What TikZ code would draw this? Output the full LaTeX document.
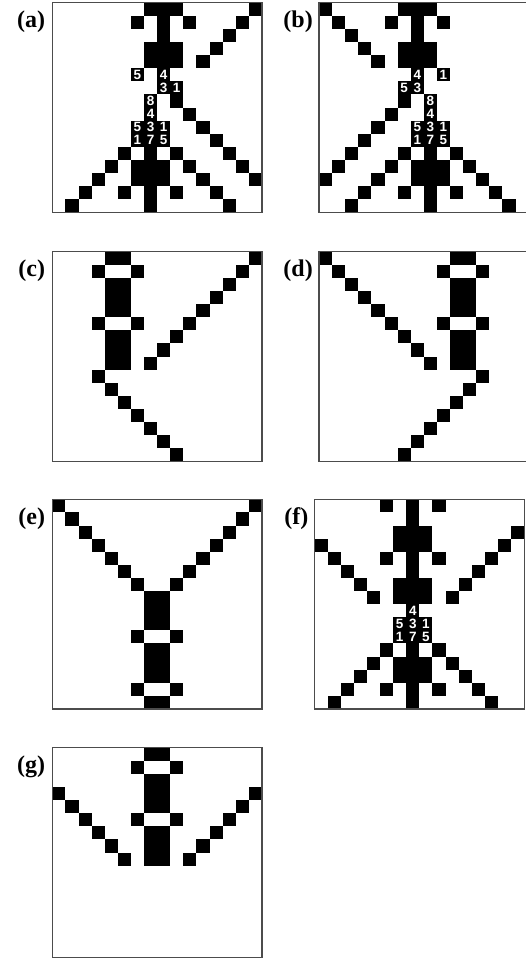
\documentclass[tikz,border=0pt]{standalone}
\usepackage{fontspec}
\setmainfont{Liberation Serif}
\newfontfamily\digitfont{Liberation Sans}

\begin{document}
\begin{tikzpicture}[x=1pt,y=-1pt] % seven snapshots of the cell grid
    \tikzstyle{every node}+=[inner sep=0pt]
    \tikzstyle{cell}=[fill=black]
    \tikzstyle{frame}=[draw=black!70, line width=1.2pt]
    \tikzstyle{num}=[text=white, font=\digitfont\bfseries\fontsize{13.5}{13.5}\selectfont]
    \tikzstyle{tag}=[anchor=east, font=\bfseries\fontsize{24}{24}\selectfont]
    \def\cs{13.1}
    \useasboundingbox (0,0) rectangle (525,958);

    % (a)
    \begin{scope}[shift={(52.3,2.7)}]
        \foreach \r/\cols in {0/{7,8,9,15},1/{6,8,10,14},2/{8,13},3/{7,8,9,12},4/{7,8,9,11},
                7/{9},8/{10},9/{11},10/{12},11/{5,7,9,13},12/{4,6,7,8,10,14},
                13/{3,6,7,8,11,15},14/{2,5,7,9,12},15/{1,7,13}}
            \foreach \c in \cols
                \fill [cell] (\c*\cs,\r*\cs) rectangle ++(\cs,\cs);
        \foreach \r/\c/\n in {5/6/5,5/8/4,6/8/3,6/9/1,7/7/8,8/7/4,9/6/5,9/7/3,9/8/1,10/6/1,10/7/7,10/8/5} {
            \fill [cell] (\c*\cs,\r*\cs) rectangle ++(\cs,\cs);
            \node [num] (a-\r-\c) at (\c*\cs+0.5*\cs,\r*\cs+0.5*\cs) {\n};
        }
        \draw [frame] (0,0) rectangle (16*\cs,16*\cs);
        \node [tag] (tag-a) at (-7,19) {(a)};
    \end{scope}

    % (b)
    \begin{scope}[shift={(319,2.7)}]
        \foreach \r/\cols in {0/{0,6,7,8},1/{1,5,7,9},2/{2,7},3/{3,6,7,8},4/{4,6,7,8},
                7/{6},8/{5},9/{4},10/{3},11/{2,6,8,10},12/{1,5,7,8,9,11},
                13/{0,4,7,8,9,12},14/{3,6,8,10,13},15/{2,8,14}}
            \foreach \c in \cols
                \fill [cell] (\c*\cs,\r*\cs) rectangle ++(\cs,\cs);
        \foreach \r/\c/\n in {5/7/4,5/9/1,6/6/5,6/7/3,7/8/8,8/8/4,9/7/5,9/8/3,9/9/1,10/7/1,10/8/7,10/9/5} {
            \fill [cell] (\c*\cs,\r*\cs) rectangle ++(\cs,\cs);
            \node [num] (b-\r-\c) at (\c*\cs+0.5*\cs,\r*\cs+0.5*\cs) {\n};
        }
        \draw [frame] (0,0) rectangle (16*\cs,16*\cs);
        \node [tag] (tag-b) at (-6,19) {(b)};
    \end{scope}

    % (c)
    \begin{scope}[shift={(52.3,251.7)}]
        \foreach \r/\cols in {0/{4,5,15},1/{3,6,14},2/{4,5,13},3/{4,5,12},4/{4,5,11},
                5/{3,6,10},6/{4,5,9},7/{4,5,8},8/{4,5,7},9/{3},10/{4},11/{5},
                12/{6},13/{7},14/{8},15/{9}}
            \foreach \c in \cols
                \fill [cell] (\c*\cs,\r*\cs) rectangle ++(\cs,\cs);
        \draw [frame] (0,0) rectangle (16*\cs,16*\cs);
        \node [tag] (tag-c) at (-7,19) {(c)};
    \end{scope}

    % (d)
    \begin{scope}[shift={(319,251.7)}]
        \foreach \r/\cols in {0/{0,10,11},1/{1,9,12},2/{2,10,11},3/{3,10,11},4/{4,10,11},
                5/{5,9,12},6/{6,10,11},7/{7,10,11},8/{8,10,11},9/{12},10/{11},11/{10},
                12/{9},13/{8},14/{7},15/{6}}
            \foreach \c in \cols
                \fill [cell] (\c*\cs,\r*\cs) rectangle ++(\cs,\cs);
        \draw [frame] (0,0) rectangle (16*\cs,16*\cs);
        \node [tag] (tag-d) at (-6,19) {(d)};
    \end{scope}

    % (e)
    \begin{scope}[shift={(52.3,499.3)}]
        \foreach \r/\cols in {0/{0,15},1/{1,14},2/{2,13},3/{3,12},4/{4,11},5/{5,10},
                6/{6,9},7/{7,8},8/{7,8},9/{7,8},10/{6,9},11/{7,8},12/{7,8},
                13/{7,8},14/{6,9},15/{7,8}}
            \foreach \c in \cols
                \fill [cell] (\c*\cs,\r*\cs) rectangle ++(\cs,\cs);
        \draw [frame] (0,0) rectangle (16*\cs,16*\cs);
        \node [tag] (tag-e) at (-7,19) {(e)};
    \end{scope}

    % (f)
    \begin{scope}[shift={(314.5,499.3)}]
        \foreach \r/\cols in {0/{5,7,9},1/{7},2/{6,7,8,15},3/{0,6,7,8,14},4/{1,5,7,9,13},
                5/{2,7,12},6/{3,6,7,8,11},7/{4,6,7,8,10},11/{5,7,9},12/{4,6,7,8,10},
                13/{3,6,7,8,11},14/{2,5,7,9,12},15/{1,7,13}}
            \foreach \c in \cols
                \fill [cell] (\c*\cs,\r*\cs) rectangle ++(\cs,\cs);
        \foreach \r/\c/\n in {8/7/4,9/6/5,9/7/3,9/8/1,10/6/1,10/7/7,10/8/5} {
            \fill [cell] (\c*\cs,\r*\cs) rectangle ++(\cs,\cs);
            \node [num] (f-\r-\c) at (\c*\cs+0.5*\cs,\r*\cs+0.5*\cs) {\n};
        }
        \draw [frame] (0,0) rectangle (16*\cs,16*\cs);
        \node [tag] (tag-f) at (-6,19) {(f)};
    \end{scope}

    % (g)
    \begin{scope}[shift={(52.3,747.7)}]
        \foreach \r/\cols in {0/{7,8},1/{6,9},2/{7,8},3/{0,7,8,15},4/{1,7,8,14},
                5/{2,6,9,13},6/{3,7,8,12},7/{4,7,8,11},8/{5,7,8,10}}
            \foreach \c in \cols
                \fill [cell] (\c*\cs,\r*\cs) rectangle ++(\cs,\cs);
        \draw [frame] (0,0) rectangle (16*\cs,16*\cs);
        \node [tag] (tag-g) at (-7,19) {(g)};
    \end{scope}
\end{tikzpicture}
\end{document}
